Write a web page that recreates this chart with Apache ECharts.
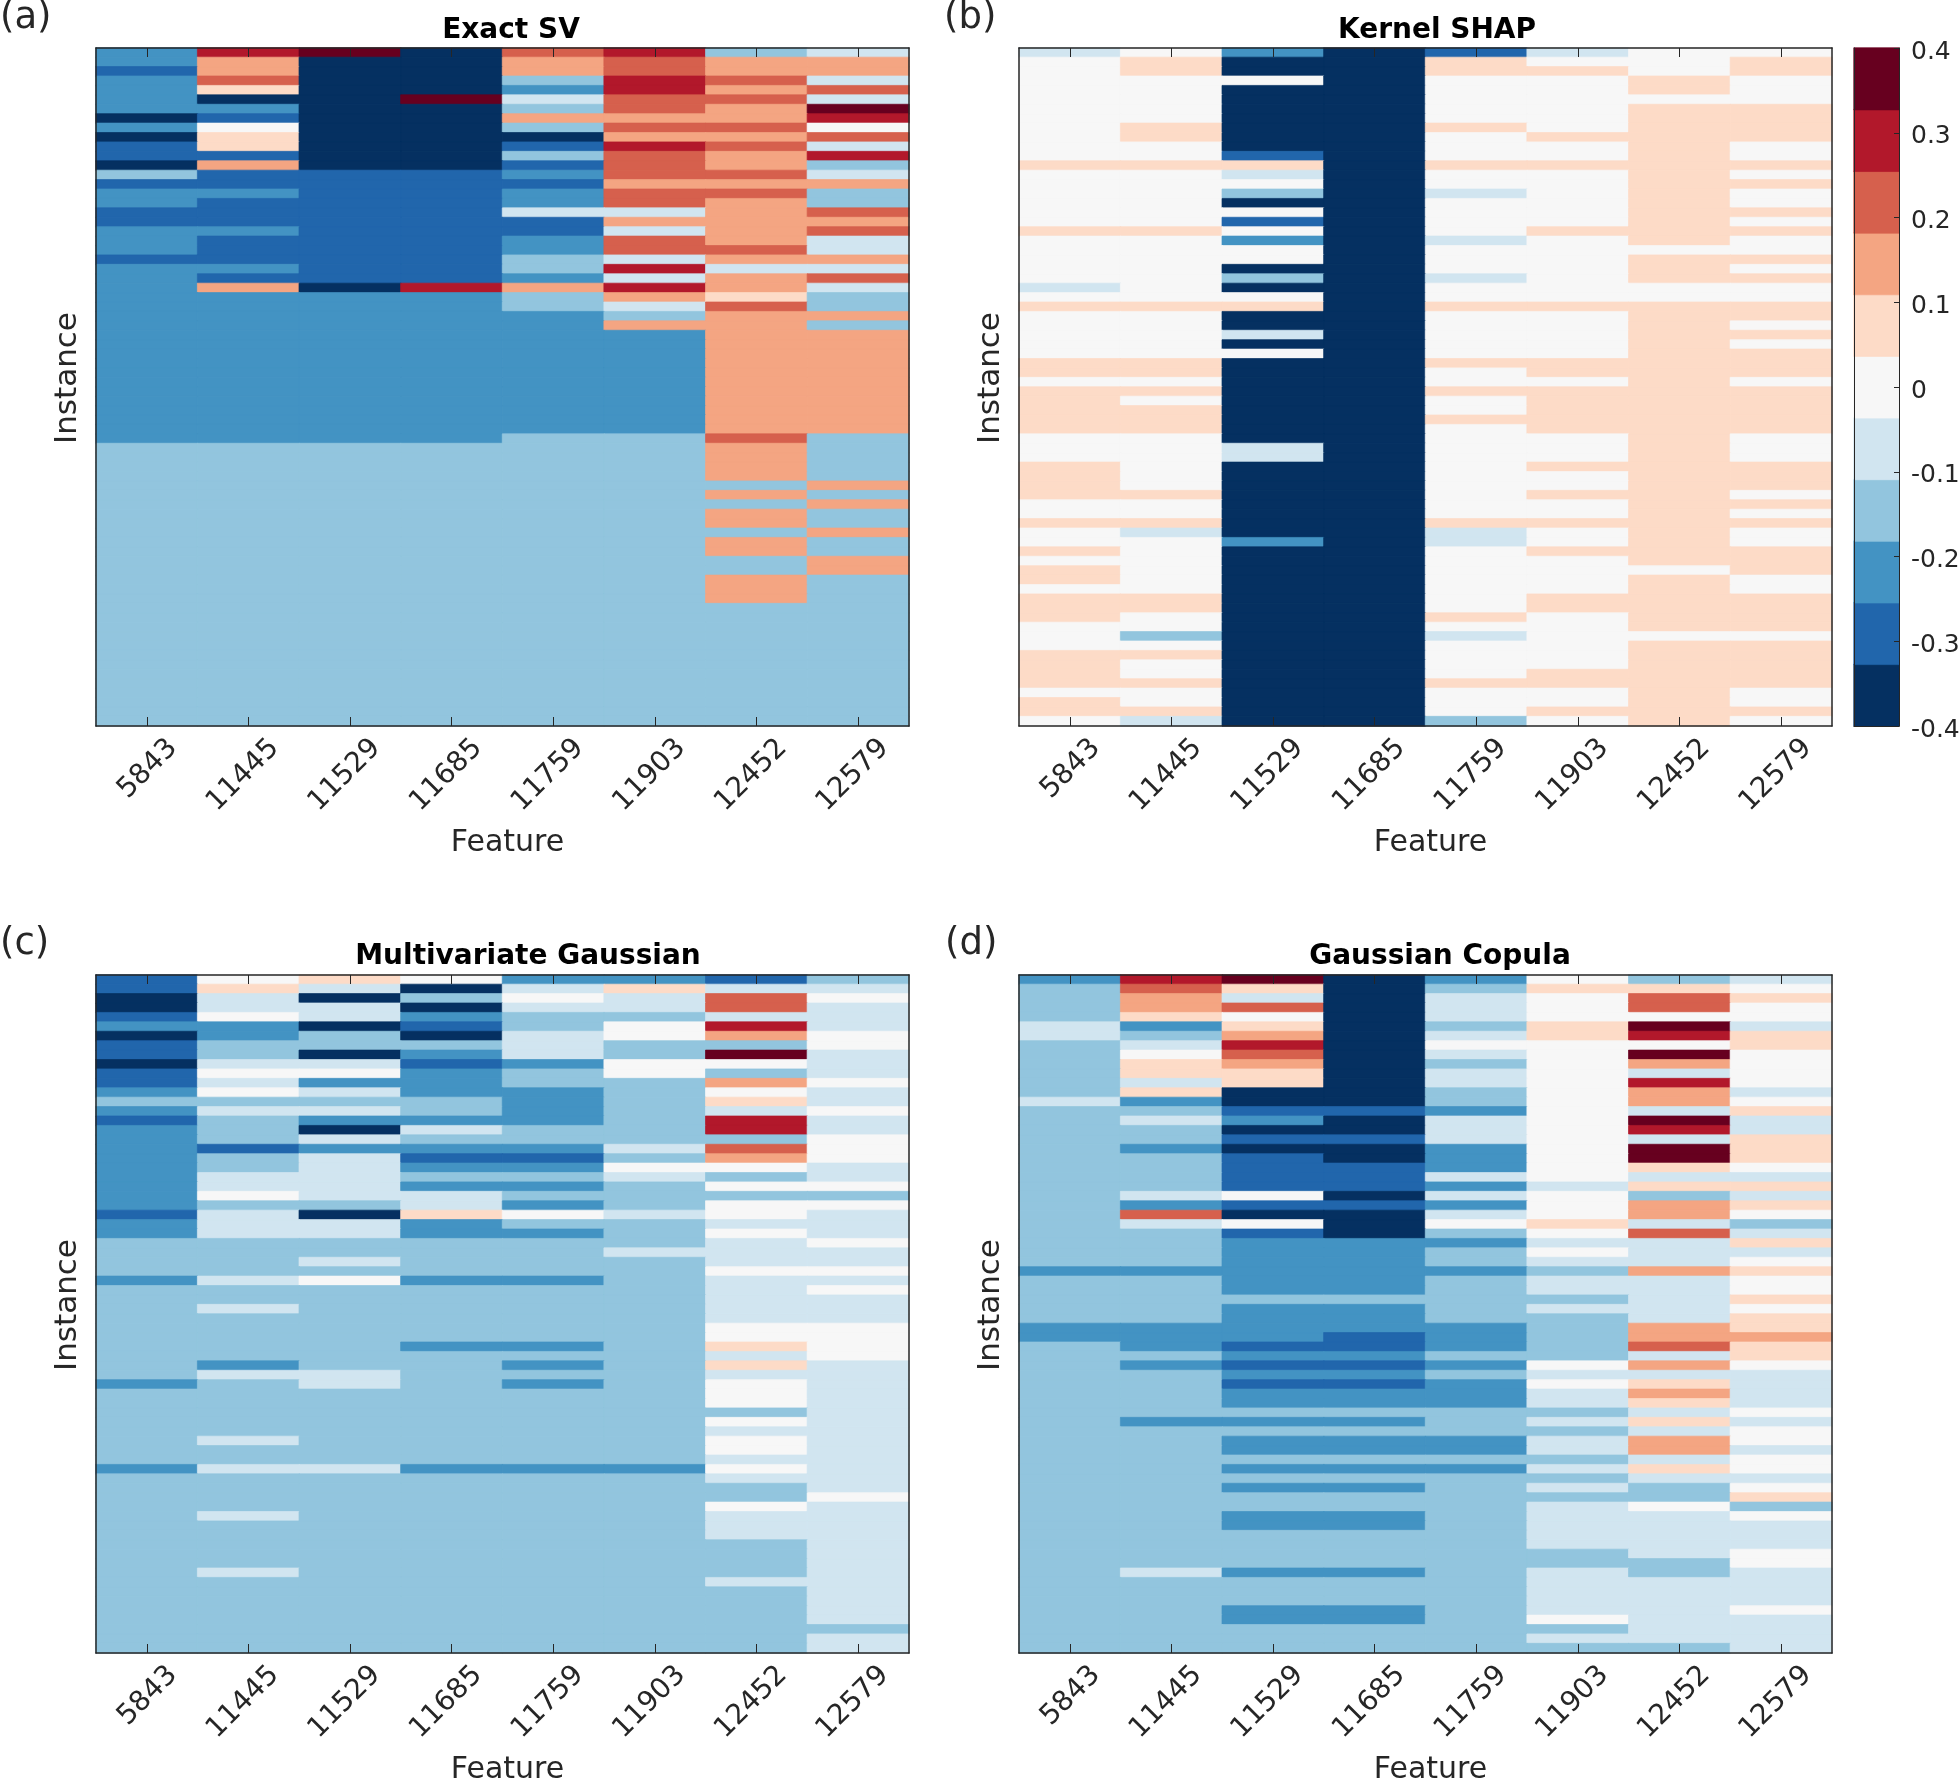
<!DOCTYPE html>
<html>
<head>
<meta charset="utf-8">
<style>html,body{margin:0;padding:0;background:#fff}#c{width:1960px;height:1780px}</style>
<script src="https://cdn.jsdelivr.net/npm/echarts@6/dist/echarts.min.js"></script>
</head>
<body>
<div id="c"></div>
<script>
const features = ['5843','11445','11529','11685','11759','11903','12452','12579'];
const colorLevels = ['#053061','#2166ac','#4393c3','#92c5de','#d1e5f0','#f7f7f7','#fddbc7','#f4a582','#d6604d','#b2182b','#67001f'];
const colorbarTicks = [-0.4,-0.3,-0.2,-0.1,0,0.1,0.2,0.3,0.4];
const binWidth = 0.8 / 11;
// Each row is one instance; a number k is the colour bin, value = k * binWidth.
const exactSV = [
[-3,4,5,-5,3,4,-2,-1],[-3,2,-5,-5,2,3,2,2],[-4,2,-5,-5,2,3,2,2],[-3,3,-5,-5,-2,4,3,-1],
[-3,1,-5,-5,-3,4,2,3],[-3,-5,-5,5,-1,3,3,-1],[-3,-3,-5,-5,-2,3,2,5],[-5,-4,-5,-5,2,2,2,4],
[-3,0,-5,-5,-2,3,3,0],[-5,1,-5,-5,-5,2,2,3],[-4,1,-5,-5,-4,4,3,-1],[-4,-4,-5,-5,-2,3,2,4],
[-5,2,-5,-5,-4,3,2,-2],[-2,-4,-4,-4,-3,3,3,-1],[-4,-4,-4,-4,-4,2,2,2],[-3,-3,-4,-4,-3,3,3,-2],
[-3,-4,-4,-4,-3,3,2,-2],[-4,-4,-4,-4,-1,-1,2,3],[-4,-4,-4,-4,-4,2,2,2],[-3,-3,-4,-4,-4,-1,2,3],
[-3,-4,-4,-4,-3,3,2,-1],[-3,-4,-4,-4,-3,3,3,-1],[-4,-4,-4,-4,-2,-1,2,2],[-3,-3,-4,-4,-2,4,-1,-1],
[-3,-4,-4,-4,-3,-1,2,3],[-3,2,-5,4,2,4,2,-1],[-3,-3,-3,-3,-2,2,1,-2],[-3,-3,-3,-3,-2,-1,3,-2],
[-3,-3,-3,-3,-3,-2,2,2],[-3,-3,-3,-3,-3,2,2,-2],[-3,-3,-3,-3,-3,-3,2,2],[-3,-3,-3,-3,-3,-3,2,2],
[-3,-3,-3,-3,-3,-3,2,2],[-3,-3,-3,-3,-3,-3,2,2],[-3,-3,-3,-3,-3,-3,2,2],[-3,-3,-3,-3,-3,-3,2,2],
[-3,-3,-3,-3,-3,-3,2,2],[-3,-3,-3,-3,-3,-3,2,2],[-3,-3,-3,-3,-3,-3,2,2],[-3,-3,-3,-3,-3,-3,2,2],
[-3,-3,-3,-3,-3,-3,2,2],[-3,-3,-3,-3,-2,-2,3,-2],[-2,-2,-2,-2,-2,-2,2,-2],[-2,-2,-2,-2,-2,-2,2,-2],
[-2,-2,-2,-2,-2,-2,2,-2],[-2,-2,-2,-2,-2,-2,2,-2],[-2,-2,-2,-2,-2,-2,-2,2],[-2,-2,-2,-2,-2,-2,2,-2],
[-2,-2,-2,-2,-2,-2,-2,2],[-2,-2,-2,-2,-2,-2,2,-2],[-2,-2,-2,-2,-2,-2,2,-2],[-2,-2,-2,-2,-2,-2,-2,2],
[-2,-2,-2,-2,-2,-2,2,-2],[-2,-2,-2,-2,-2,-2,2,-2],[-2,-2,-2,-2,-2,-2,-2,2],[-2,-2,-2,-2,-2,-2,-2,2],
[-2,-2,-2,-2,-2,-2,2,-2],[-2,-2,-2,-2,-2,-2,2,-2],[-2,-2,-2,-2,-2,-2,2,-2],[-2,-2,-2,-2,-2,-2,-2,-2],
[-2,-2,-2,-2,-2,-2,-2,-2],[-2,-2,-2,-2,-2,-2,-2,-2],[-2,-2,-2,-2,-2,-2,-2,-2],[-2,-2,-2,-2,-2,-2,-2,-2],
[-2,-2,-2,-2,-2,-2,-2,-2],[-2,-2,-2,-2,-2,-2,-2,-2],[-2,-2,-2,-2,-2,-2,-2,-2],[-2,-2,-2,-2,-2,-2,-2,-2],
[-2,-2,-2,-2,-2,-2,-2,-2],[-2,-2,-2,-2,-2,-2,-2,-2],[-2,-2,-2,-2,-2,-2,-2,-2],[-2,-2,-2,-2,-2,-2,-2,-2]
];
const kernelSHAP = [
[-1,0,-3,-5,-4,-1,0,0],[0,1,-5,-5,1,0,0,1],[0,1,-5,-5,1,1,0,1],[0,0,0,-5,0,0,1,0],
[0,0,-5,-5,0,0,1,0],[0,0,-5,-5,0,0,0,0],[0,0,-5,-5,0,0,1,1],[0,0,-5,-5,0,0,1,1],
[0,1,-5,-5,1,0,1,1],[0,1,-5,-5,0,1,1,1],[0,0,-5,-5,0,0,1,0],[0,0,-4,-5,0,0,1,0],
[1,1,1,-5,1,1,1,1],[0,0,-1,-5,0,0,1,0],[0,0,0,-5,0,0,1,1],[0,0,-2,-5,-1,0,1,0],
[0,0,-5,-5,0,0,1,0],[0,0,0,-5,0,0,1,1],[0,0,-4,-5,0,0,1,0],[1,1,0,-5,0,1,1,1],
[0,0,-3,-5,-1,0,1,0],[0,0,0,-5,0,0,0,0],[0,0,0,-5,0,0,1,1],[0,0,-5,-5,0,0,1,0],
[0,0,-2,-5,-1,0,1,1],[-1,0,-5,-5,0,0,0,0],[0,0,0,-5,0,0,0,0],[1,1,1,-5,1,1,1,1],
[0,0,-5,-5,0,0,1,1],[0,0,-5,-5,0,0,1,0],[0,0,-1,-5,0,0,1,1],[0,0,-5,-5,0,0,1,0],
[0,0,0,-5,0,0,1,1],[1,1,-5,-5,1,1,1,1],[1,1,-5,-5,0,1,1,1],[0,0,-5,-5,0,0,1,0],
[1,1,-5,-5,1,1,1,1],[1,0,-5,-5,0,1,1,1],[1,1,-5,-5,0,1,1,1],[1,1,-5,-5,1,1,1,1],
[1,1,-5,-5,0,1,1,1],[0,0,-5,-5,0,0,1,0],[0,0,-1,-5,0,0,1,0],[0,0,-1,-5,0,0,1,0],
[1,0,-5,-5,0,1,1,1],[1,0,-5,-5,0,0,1,1],[1,0,-5,-5,0,0,1,1],[1,1,-5,-5,0,1,1,0],
[0,0,-5,-5,0,0,1,1],[0,0,-5,-5,0,0,1,0],[1,1,-5,-5,1,1,1,1],[0,-1,-5,-5,-1,0,1,0],
[0,0,-3,-5,-1,0,1,0],[1,0,-5,-5,0,1,1,1],[0,0,-5,-5,0,0,1,1],[1,0,-5,-5,0,0,0,1],
[1,0,-5,-5,0,0,1,0],[0,0,-5,-5,0,0,1,0],[1,1,-5,-5,0,1,1,1],[1,1,-5,-5,0,1,1,1],
[1,0,-5,-5,1,0,1,1],[0,0,-5,-5,0,0,1,1],[0,-2,-5,-5,-1,0,0,0],[0,0,-5,-5,0,0,1,1],
[1,1,-5,-5,0,0,1,1],[1,0,-5,-5,0,0,1,1],[1,0,-5,-5,0,1,1,1],[1,1,-5,-5,1,1,1,1],
[0,0,-5,-5,0,0,1,0],[1,0,-5,-5,0,0,1,0],[1,1,-5,-5,0,1,1,1],[0,-1,-5,-5,-2,0,1,0]
];
const multivariateGaussian = [
[-4,0,1,0,-3,-3,-4,-2],[-4,1,-1,-5,-1,1,-1,-1],[-5,-1,-5,-2,0,-1,3,0],[-5,-1,-1,-5,-1,-1,3,-1],
[-4,0,-1,-3,-2,-2,-1,-1],[-3,-3,-5,-4,-2,0,4,-1],[-5,-3,-2,-5,-1,0,2,0],[-4,-2,-2,-2,-1,-2,-2,0],
[-4,-2,-5,-3,-1,-2,5,-1],[-5,-1,-1,-4,-3,0,0,-1],[-4,0,0,-3,-2,0,-2,-1],[-4,-1,-3,-3,-2,-2,2,0],
[-3,0,-1,-3,-3,-2,0,-1],[-2,-2,-2,-2,-3,-2,1,-1],[-3,-1,-1,-2,-3,-2,-1,0],[-4,-2,-3,-3,-3,-2,4,-1],
[-3,-2,-5,-1,-2,-2,4,-1],[-3,-2,-1,-2,-2,-2,-2,0],[-3,-4,-3,-3,-3,-1,3,0],[-3,-2,-1,-4,-4,-2,2,0],
[-3,-2,-1,-3,-3,0,0,-1],[-3,-1,-1,-2,-2,-1,-2,-1],[-3,-1,-1,-3,-3,-2,0,0],[-3,0,-1,-1,-2,-2,-2,-2],
[-3,-2,-2,-1,-3,-2,0,0],[-4,-1,-5,1,0,-1,0,-1],[-3,-1,-1,-3,-2,-2,-1,-1],[-3,-1,-1,-3,-3,-2,0,-1],
[-2,-2,-2,-2,-2,-2,-1,0],[-2,-2,-2,-2,-2,-1,-1,-1],[-2,-2,-1,-2,-2,-2,-1,-1],[-2,-2,-2,-2,-2,-2,0,0],
[-3,-1,0,-3,-3,-2,-1,-1],[-2,-2,-2,-2,-2,-2,-1,0],[-2,-2,-2,-2,-2,-2,-1,-1],[-2,-1,-2,-2,-2,-2,-1,-1],
[-2,-2,-2,-2,-2,-2,-1,-1],[-2,-2,-2,-2,-2,-2,0,0],[-2,-2,-2,-2,-2,-2,0,0],[-2,-2,-2,-3,-3,-2,1,0],
[-2,-2,-2,-2,-2,-2,-1,0],[-2,-3,-2,-2,-3,-2,1,-1],[-2,-1,-1,-2,-2,-2,-1,-1],[-3,-2,-1,-2,-3,-2,0,-1],
[-2,-2,-2,-2,-2,-2,0,-1],[-2,-2,-2,-2,-2,-2,0,-1],[-2,-2,-2,-2,-2,-2,-2,-1],[-2,-2,-2,-2,-2,-2,0,-1],
[-2,-2,-2,-2,-2,-2,-1,-1],[-2,-1,-2,-2,-2,-2,0,-1],[-2,-2,-2,-2,-2,-2,0,-1],[-2,-2,-2,-2,-2,-2,-1,-1],
[-3,-1,-1,-3,-3,-3,0,-1],[-2,-2,-2,-2,-2,-2,-1,-1],[-2,-2,-2,-2,-2,-2,-2,-1],[-2,-2,-2,-2,-2,-2,-2,0],
[-2,-2,-2,-2,-2,-2,0,-1],[-2,-1,-2,-2,-2,-2,-1,-1],[-2,-2,-2,-2,-2,-2,-1,-1],[-2,-2,-2,-2,-2,-2,-1,-1],
[-2,-2,-2,-2,-2,-2,-2,-1],[-2,-2,-2,-2,-2,-2,-2,-1],[-2,-2,-2,-2,-2,-2,-2,-1],[-2,-1,-2,-2,-2,-2,-2,-1],
[-2,-2,-2,-2,-2,-2,-1,-1],[-2,-2,-2,-2,-2,-2,-2,-1],[-2,-2,-2,-2,-2,-2,-2,-1],[-2,-2,-2,-2,-2,-2,-2,-1],
[-2,-2,-2,-2,-2,-2,-2,-1],[-2,-2,-2,-2,-2,-2,-2,-2],[-2,-2,-2,-2,-2,-2,-2,-1],[-2,-2,-2,-2,-2,-2,-2,-1]
];
const gaussianCopula = [
[-3,4,5,-5,-3,0,-2,-1],[-2,3,1,-5,-2,1,1,0],[-2,2,-1,-5,-1,0,3,1],[-2,2,3,-5,-1,0,3,0],
[-2,1,0,-5,-1,0,0,0],[-1,-3,1,-5,-2,1,5,-1],[-1,-2,2,-5,-1,1,4,1],[-2,-1,4,-5,0,0,0,1],
[-2,0,3,-5,-1,0,5,0],[-2,1,2,-5,-2,0,2,0],[-2,1,1,-5,-1,0,-1,0],[-2,-1,1,-5,-1,0,4,0],
[-2,1,-5,-5,-2,0,2,-1],[-1,-3,-5,-5,-2,0,2,0],[-2,-2,-4,-4,-3,0,-1,1],[-2,-1,-3,-5,-1,0,5,-1],
[-2,-2,-5,-5,-1,0,4,-1],[-2,-2,-4,-4,-1,0,-1,1],[-2,-3,-5,-5,-3,0,5,1],[-2,-2,-4,-5,-3,0,5,1],
[-2,-2,-4,-4,-3,0,1,0],[-2,-2,-4,-4,-1,0,-1,-1],[-2,-2,-4,-4,-3,-1,1,1],[-2,-1,0,-5,-1,0,-2,-1],
[-2,-3,-4,-4,-3,0,2,1],[-2,3,-5,-5,-1,0,2,0],[-2,-1,0,-5,0,1,-1,-2],[-2,-2,-4,-5,-2,0,3,-1],
[-2,-2,-3,-3,-3,-1,-1,1],[-2,-2,-3,-3,-2,0,-1,-1],[-2,-2,-3,-3,-2,-1,-1,0],[-3,-3,-3,-3,-3,-2,2,1],
[-2,-2,-3,-3,-2,-1,-1,0],[-2,-2,-3,-3,-2,-1,-1,0],[-2,-2,-2,-2,-2,-2,-1,1],[-2,-2,-3,-3,-2,-1,-1,0],
[-2,-2,-3,-3,-2,-2,-1,1],[-3,-3,-3,-3,-3,-2,2,1],[-3,-3,-3,-4,-3,-2,2,2],[-2,-3,-4,-4,-3,-2,3,1],
[-2,-2,-3,-3,-2,-2,-1,1],[-2,-3,-4,-4,-3,0,2,0],[-2,-2,-3,-3,-2,-1,-1,-1],[-2,-2,-4,-4,-3,0,1,-1],
[-2,-2,-3,-3,-3,-1,2,-1],[-2,-2,-3,-3,-3,-1,1,-1],[-2,-2,-2,-2,-2,-2,-1,0],[-2,-3,-3,-3,-2,-1,1,-1],
[-2,-2,-2,-2,-2,-2,-1,0],[-2,-2,-3,-3,-3,-1,2,0],[-2,-2,-3,-3,-3,-1,2,-1],[-2,-2,-2,-2,-2,-2,-1,0],
[-2,-2,-3,-3,-3,-1,1,0],[-2,-2,-2,-2,-2,-2,-1,-1],[-2,-2,-3,-3,-2,-1,-2,0],[-2,-2,-2,-2,-2,-2,-2,1],
[-2,-2,-2,-2,-2,-1,0,-2],[-2,-2,-3,-3,-2,-1,-1,0],[-2,-2,-3,-3,-2,-1,-1,-1],[-2,-2,-2,-2,-2,-1,-1,-1],
[-2,-2,-2,-2,-2,-1,-1,-1],[-2,-2,-2,-2,-2,-2,-1,0],[-2,-2,-2,-2,-2,-2,-2,0],[-2,-1,-3,-3,-2,-1,-2,-1],
[-2,-2,-2,-2,-2,-1,-1,-1],[-2,-2,-2,-2,-2,-1,-1,-1],[-2,-2,-2,-2,-2,-1,-1,-1],[-2,-2,-3,-3,-2,-1,-1,0],
[-2,-2,-3,-3,-2,0,-1,-1],[-2,-2,-2,-2,-2,-2,-1,-1],[-2,-2,-2,-2,-2,-1,-1,-1],[-2,-2,-2,-2,-2,-2,-2,-1]
];

const panels = [
  {rows: exactSV, title: 'Exact SV', tag: '(a)', left: 96, top: 48, titleX: 506, tagX: 0, titleY: 26, tagY: 18},
  {rows: kernelSHAP, title: 'Kernel SHAP', tag: '(b)', left: 1019, top: 48, titleX: 1432, tagX: 944, titleY: 26, tagY: 18},
  {rows: multivariateGaussian, title: 'Multivariate Gaussian', tag: '(c)', left: 96, top: 975, titleX: 523, tagX: 0, titleY: 952, tagY: 944},
  {rows: gaussianCopula, title: 'Gaussian Copula', tag: '(d)', left: 1019, top: 975, titleX: 1435, tagX: 945, titleY: 952, tagY: 944}
];
const W = 813, H = 678;
const FONT = '"DejaVu Sans"';
const INK = '#262626';
const line = {show: true, onZero: false, lineStyle: {color: INK, width: 1.5}};
const inTick = {show: true, inside: true, length: 9, alignWithLabel: true, lineStyle: {color: INK, width: 1}};

const cellItem = (x, y, k) => {
  const color = colorLevels[k + 5];
  return {value: [x, y, k * binWidth], itemStyle: {borderColor: color, borderWidth: 0.7}};
};

const grid = [], xAxis = [], yAxis = [], series = [], title = [];
panels.forEach((p, i) => {
  grid.push({left: p.left, top: p.top, width: W, height: H, outerBoundsMode: 'none'});
  const instances = p.rows.map((_, r) => String(r + 1));
  xAxis.push({
    type: 'category', gridIndex: i, data: features, position: 'bottom', z: 10,
    axisLine: line, axisTick: inTick, splitLine: {show: false},
    axisLabel: {rotate: 45, interval: 0, margin: 44, padding: [0, -37, 0, 0], fontFamily: FONT, fontSize: 28, color: INK},
    name: 'Feature', nameLocation: 'middle', nameGap: 102,
    nameTextStyle: {fontFamily: FONT, fontSize: 30, color: INK, padding: [0, 0, 0, 10]}
  });
  xAxis.push({
    type: 'category', gridIndex: i, data: features, position: 'top', z: 10,
    axisLine: line, axisTick: inTick, axisLabel: {show: false}, splitLine: {show: false}
  });
  yAxis.push({
    type: 'category', gridIndex: i, data: instances, inverse: true, position: 'left', z: 10,
    axisLine: line, axisTick: {show: false}, axisLabel: {show: false}, splitLine: {show: false},
    name: 'Instance', nameLocation: 'middle', nameGap: 13,
    nameTextStyle: {fontFamily: FONT, fontSize: 31, color: INK, padding: [0, 0, 0, 18]}
  });
  yAxis.push({
    type: 'category', gridIndex: i, data: instances, inverse: true, position: 'right', z: 10,
    axisLine: line, axisTick: {show: false}, axisLabel: {show: false}, splitLine: {show: false}
  });
  const data = [];
  p.rows.forEach((row, r) => row.forEach((k, c) => data.push(cellItem(c, r, k))));
  series.push({
    type: 'heatmap', xAxisIndex: i * 2, yAxisIndex: i * 2, data,
    progressive: 0, emphasis: {disabled: true}
  });
  title.push({text: p.title, left: p.titleX, top: p.titleY, textAlign: 'center', textVerticalAlign: 'middle',
    textStyle: {fontFamily: FONT, fontSize: 28, fontWeight: 'bold', color: '#000'}});
  title.push({text: p.tag, left: p.tagX, top: p.tagY, textVerticalAlign: 'middle', padding: 0,
    textStyle: {fontFamily: FONT, fontSize: 37, fontWeight: 'normal', color: INK}});
});

// colour bar: its own grid, one heatmap cell per colour bin
const cbGrid = grid.length;
const binNames = colorLevels.map((_, k) => String(k - 5));
const cbLine = {show: true, onZero: false, lineStyle: {color: INK, width: 1}};
grid.push({left: 1854, top: 48, width: 45, height: H, outerBoundsMode: 'none'});
xAxis.push({type: 'category', gridIndex: cbGrid, data: ['bar'], axisLine: cbLine,
  axisTick: {show: false}, axisLabel: {show: false}, z: 10});
yAxis.push({type: 'category', gridIndex: cbGrid, data: binNames, position: 'left', z: 10,
  axisLine: cbLine, axisTick: {show: false}, axisLabel: {show: false}});
yAxis.push({type: 'value', gridIndex: cbGrid, position: 'right', min: -0.4, max: 0.4, interval: 0.1, z: 10,
  axisLine: cbLine,
  axisTick: {show: true, inside: true, length: 5, lineStyle: {color: INK, width: 1}},
  splitLine: {show: false},
  axisLabel: {margin: 12, verticalAlign: 'top', lineHeight: 8, fontFamily: FONT, fontSize: 25, color: INK,
    customValues: colorbarTicks,
    formatter: v => Math.abs(v) < 1e-9 ? '0' : Number(v).toFixed(1)}});
series.push({
  type: 'heatmap', xAxisIndex: xAxis.length - 1, yAxisIndex: yAxis.length - 2,
  data: colorLevels.map((_, k) => cellItem(0, k, k - 5)),
  progressive: 0, emphasis: {disabled: true}
});

const pieces = colorLevels.map((color, k) => ({
  gte: (k - 5.5) * binWidth, lt: (k - 4.5) * binWidth, color
}));

const chart = echarts.init(document.getElementById('c'), null, {renderer: 'canvas', width: 1960, height: 1780});
chart.setOption({
  animation: false,
  backgroundColor: '#fff',
  title, grid, xAxis, yAxis, series,
  tooltip: {show: false},
  visualMap: {type: 'piecewise', show: false, pieces, seriesIndex: series.map((_, i) => i)}
});
</script>
</body>
</html>
